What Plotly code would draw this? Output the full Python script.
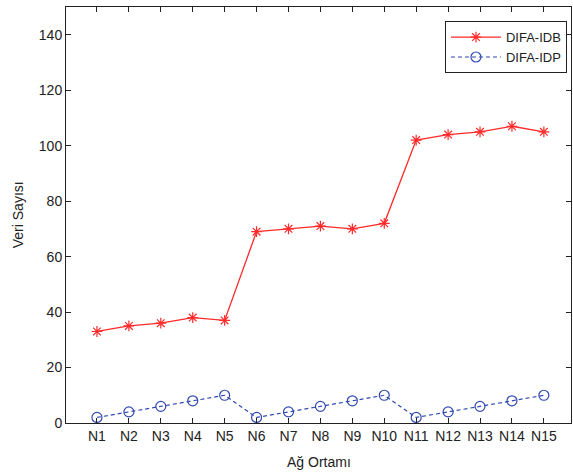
import plotly.graph_objects as go

categories = [f"N{i}" for i in range(1, 16)]
idb = [33, 35, 36, 38, 37, 69, 70, 71, 70, 72, 102, 104, 105, 107, 105]
idp = [2, 4, 6, 8, 10, 2, 4, 6, 8, 10, 2, 4, 6, 8, 10]
yticks = [0, 20, 40, 60, 80, 100, 120, 140]

xpos = list(range(1, 16))
font = "Liberation Sans, Arial"

fig = go.Figure()
fig.add_trace(go.Scatter(
    x=xpos, y=idb, name="DIFA-IDB", mode="lines+markers",
    line=dict(color="#ff2a2a", width=1.3),
    marker=dict(symbol="asterisk-open", size=9, color="#ff2a2a",
                line=dict(color="#ff2a2a", width=1.2)),
))
fig.add_trace(go.Scatter(
    x=xpos, y=idp, name="DIFA-IDP", mode="lines+markers",
    line=dict(color="#3049b0", width=1.2, dash="4px,3px"),
    marker=dict(symbol="circle-open", size=10, color="#3049b0",
                line=dict(color="#3049b0", width=1.2)),
))

fig.update_layout(
    width=573, height=475,
    margin=dict(l=66, r=2, t=7, b=52, autoexpand=False),
    paper_bgcolor="white", plot_bgcolor="white",
    font=dict(family=font, size=14, color="#222"),
    showlegend=True,
    legend=dict(x=0.992, y=0.966, xanchor="right", yanchor="top",
                bordercolor="#222", borderwidth=1, bgcolor="white",
                font=dict(size=13), tracegroupgap=0, itemwidth=50),
    xaxis=dict(
        range=[0.03, 15.85], tickmode="array", tickvals=xpos, ticktext=categories,
        ticks="inside", ticklen=5, tickcolor="#222", showgrid=False, zeroline=False,
        showline=True, linecolor="#222", linewidth=1, mirror="ticks",
        automargin=False,
    ),
    yaxis=dict(
        range=[0, 150], tickmode="array", tickvals=yticks,
        ticks="inside", ticklen=5, tickcolor="#222", showgrid=False, zeroline=False,
        showline=True, linecolor="#222", linewidth=1, mirror="ticks",
        automargin=False,
    ),
    annotations=[
        dict(text="Ağ Ortamı", xref="paper", yref="paper", x=0.5, y=-0.094,
             xanchor="center", yanchor="middle", showarrow=False,
             font=dict(size=14)),
        dict(text="Veri Sayısı", xref="paper", yref="paper", x=-0.0946, y=0.5,
             xanchor="center", yanchor="middle", showarrow=False, textangle=-90,
             font=dict(size=14)),
    ],
)

fig.write_html("out.html", config={"displayModeBar": False},
               post_script="document.body.style.margin='0';document.body.style.overflow='hidden';")
